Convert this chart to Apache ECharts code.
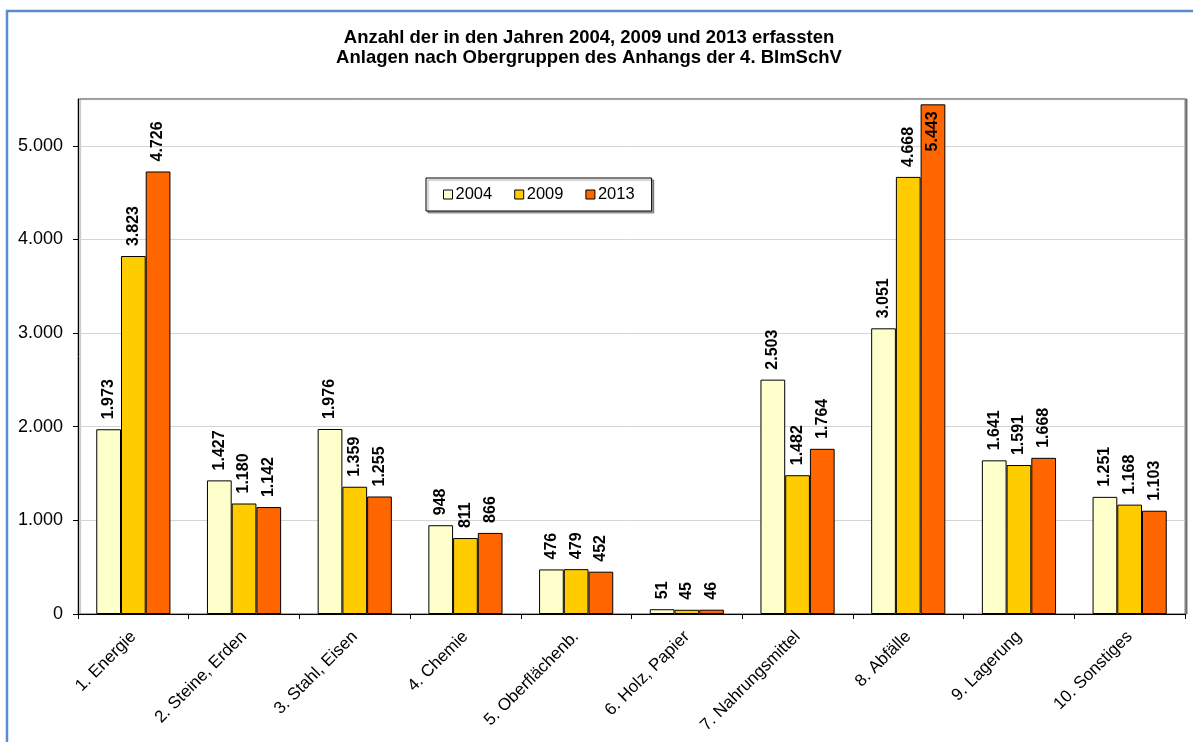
<!DOCTYPE html>
<html>
<head>
<meta charset="utf-8">
<script src="https://cdn.jsdelivr.net/npm/echarts@6/dist/echarts.min.js"></script>
<style>
html,body{margin:0;padding:0;background:#fff;}
#chart{width:1193px;height:742px;}
</style>
</head>
<body>
<div id="chart"></div>
<script>
const categories = ['1. Energie','2. Steine, Erden','3. Stahl, Eisen','4. Chemie','5. Oberflächenb.','6. Holz, Papier','7. Nahrungsmittel','8. Abfälle','9. Lagerung','10. Sonstiges'];
const years = ['2004','2009','2013'];
const values2004 = [1973, 1427, 1976, 948, 476, 51, 2503, 3051, 1641, 1251];
const values2009 = [3823, 1180, 1359, 811, 479, 45, 1482, 4668, 1591, 1168];
const values2013 = [4726, 1142, 1255, 866, 452, 46, 1764, 5443, 1668, 1103];
const yTicks = [0, 1000, 2000, 3000, 4000, 5000];

const FONT = 'Arial, "Liberation Sans", sans-serif';
const fmt = v => String(v).replace(/\B(?=(\d{3})+(?!\d))/g, '.');
const colors = ['#FFFFCC', '#FFCC00', '#FF6600'];
const yMax = 5500;

const labelTop = {
  show: true, position: 'top', rotate: 90, distance: 10,
  align: 'left', verticalAlign: 'middle',
  fontFamily: FONT, fontSize: 16, fontWeight: 'bold', color: '#000',
  formatter: p => fmt(p.value)
};

function makeData(arr) {
  return arr.map(v => {
    if (v > 5200) {
      return { value: v, label: { position: 'insideTop', align: 'right', distance: 7 } };
    }
    return v;
  });
}

const allVals = [values2004, values2009, values2013];
const series = years.map((y, i) => ({
  name: y,
  type: 'bar',
  data: makeData(allVals[i]),
  barGap: '0%',
  barCategoryGap: '33%',
  itemStyle: { color: colors[i], borderColor: '#000', borderWidth: 1 },
  label: labelTop
}));

const chart = echarts.init(document.getElementById('chart'));
chart.setOption({
  backgroundColor: '#fff',
  animation: false,
  title: {
    text: 'Anzahl der in den Jahren 2004, 2009 und 2013 erfassten\nAnlagen nach Obergruppen des Anhangs der 4. BImSchV',
    left: 584, top: 23, textAlign: 'center',
    textStyle: { fontFamily: FONT, fontSize: 18.5, fontWeight: 'bold', color: '#000', lineHeight: 20 }
  },
  legend: {
    data: years,
    left: 426, top: 178,
    orient: 'horizontal',
    padding: [8, 17],
    itemGap: 22,
    itemWidth: 9, itemHeight: 9,
    icon: 'rect',
    borderColor: '#000', borderWidth: 1,
    backgroundColor: '#fff',
    shadowColor: 'rgba(0,0,0,0.35)', shadowOffsetX: 2, shadowOffsetY: 2, shadowBlur: 1,
    itemStyle: { borderColor: '#000', borderWidth: 1 },
    textStyle: { fontFamily: FONT, fontSize: 16.5, color: '#000', padding: [0, 0, 0, -2] }
  },
  graphic: [{
    type: 'rect', z: -10, silent: true,
    shape: { x: 7, y: 11, width: 1250, height: 800 },
    style: { fill: 'none', stroke: '#5B8CCB', lineWidth: 2.5 }
  }],
  grid: {
    left: 78, right: 8, top: 99, bottom: 128,
    show: true, borderColor: '#7f7f7f', borderWidth: 1,
    backgroundColor: '#fff',
    shadowColor: 'rgba(0,0,0,0.45)', shadowOffsetX: 2, shadowOffsetY: 0, shadowBlur: 1
  },
  xAxis: {
    type: 'category',
    data: categories,
    axisLine: { lineStyle: { color: '#000', width: 1 } },
    axisTick: { show: true, length: 5, lineStyle: { color: '#000' } },
    axisLabel: {
      rotate: 45, interval: 0, margin: 20,
      fontFamily: FONT, fontSize: 17, color: '#000'
    },
    splitLine: { show: false }
  },
  yAxis: {
    type: 'value',
    min: 0, max: yMax, interval: 1000,
    axisLine: { show: true, lineStyle: { color: '#000', width: 1 } },
    axisTick: { show: true, length: 5, lineStyle: { color: '#000' }, customValues: yTicks },
    axisLabel: {
      margin: 15, fontFamily: FONT, fontSize: 18, color: '#000',
      customValues: yTicks,
      formatter: v => fmt(v)
    },
    splitLine: { show: true, lineStyle: { color: '#d4d4d4', width: 1 } }
  },
  series: series
});
</script>
</body>
</html>
